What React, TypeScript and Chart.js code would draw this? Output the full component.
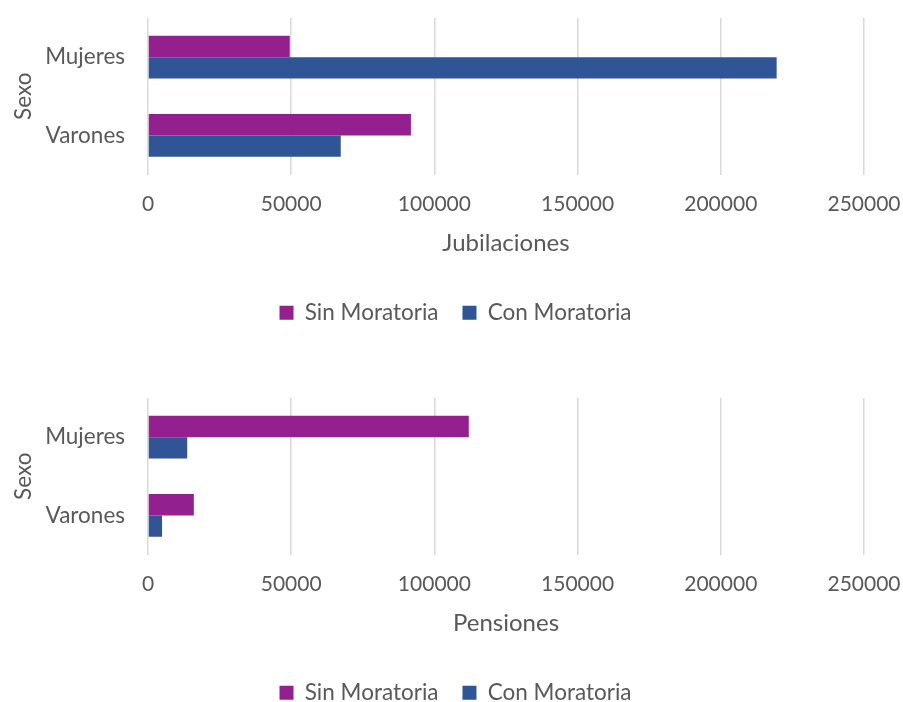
import React, { useEffect, useRef } from "react";
import { Chart, registerables } from "chart.js";

Chart.register(...registerables);

const categories = ["Mujeres", "Varones"];
const seriesNames = ["Sin Moratoria", "Con Moratoria"];
const jubilacionesSin = [49500, 91800];
const jubilacionesCon = [219500, 67300];
const pensionesSin = [112000, 16000];
const pensionesCon = [13700, 4900];
const xTickValues = [0, 50000, 100000, 150000, 200000, 250000];
const axisTitleY = "Sexo";
const colors = ["#93208E", "#2F5597"];

const FONT_FAMILY = "Lato, 'Open Sans', sans-serif";
const TEXT_COLOR = "#595959";
const W = 903;
const H = 334;

const legendCenterPlugin = {
  id: "legendCenter",
  afterLayout(chart: any) {
    if (chart.legend) {
      chart.legend.left = 4;
      chart.legend.right = 907;
    }
  },
};

function makeConfig(xTitle: string, sin: number[], con: number[]): any {
  const tickFont = { family: FONT_FAMILY, size: 21 };
  const catFont = { family: FONT_FAMILY, size: 22.5 };
  const titleFont = { family: FONT_FAMILY, size: 24 };
  const legendFont = { family: FONT_FAMILY, size: 22.5 };
  return {
    type: "bar",
    data: {
      labels: categories,
      datasets: [
        {
          label: seriesNames[0],
          data: sin,
          backgroundColor: colors[0],
          borderWidth: 0,
          categoryPercentage: 0.545,
          barPercentage: 1,
        },
        {
          label: seriesNames[1],
          data: con,
          backgroundColor: colors[1],
          borderWidth: 0,
          categoryPercentage: 0.545,
          barPercentage: 1,
        },
      ],
    },
    plugins: [legendCenterPlugin],
    options: {
      indexAxis: "y",
      responsive: false,
      animation: false,
      devicePixelRatio: 1,
      layout: { padding: { left: 0, right: 39, top: 18, bottom: 0 } },
      scales: {
        x: {
          min: 0,
          max: 250000,
          afterBuildTicks: (s: any) => {
            s.ticks = xTickValues.map((v) => ({ value: v }));
          },
          ticks: {
            callback: (v: any) => String(v),
            padding: 17,
            font: tickFont,
            color: TEXT_COLOR,
            maxRotation: 0,
            autoSkip: false,
          },
          grid: { color: "#d9d9d9", lineWidth: 1.5, drawTicks: false },
          border: { display: false },
          title: {
            display: true,
            text: xTitle,
            font: titleFont,
            color: TEXT_COLOR,
            padding: { top: 4, bottom: 20 },
          },
          afterFit: (s: any) => {
            s.height = 103;
            s.paddingLeft = 0;
            s.paddingRight = 0;
          },
        },
        y: {
          ticks: { padding: 23, font: catFont, color: TEXT_COLOR },
          grid: { display: false, drawTicks: false },
          border: { display: false },
          title: {
            display: true,
            text: axisTitleY,
            font: catFont,
            color: TEXT_COLOR,
            padding: { top: 10, bottom: 0 },
          },
          afterFit: (s: any) => {
            s.width = 148;
            s.paddingTop = 0;
            s.paddingBottom = 0;
          },
        },
      },
      plugins: {
        legend: {
          position: "bottom",
          labels: {
            boxWidth: 14,
            boxHeight: 14,
            padding: 24,
            font: legendFont,
            color: TEXT_COLOR,
          },
        },
        tooltip: { enabled: false },
      },
    },
  };
}

function BarChart({ xTitle, sin, con, top }: { xTitle: string; sin: number[]; con: number[]; top: number }) {
  const ref = useRef<HTMLCanvasElement | null>(null);
  useEffect(() => {
    if (!ref.current) return;
    const chart = new Chart(ref.current, makeConfig(xTitle, sin, con));
    return () => chart.destroy();
  }, [xTitle, sin, con]);
  return (
    <canvas
      ref={ref}
      width={W}
      height={H}
      style={{ position: "absolute", left: 0, top, width: W, height: H }}
    />
  );
}

export default function App() {
  return (
    <div style={{ position: "absolute", left: 0, top: 0, width: W, height: 702, background: "#fff", overflow: "hidden" }}>
      <BarChart xTitle="Jubilaciones" sin={jubilacionesSin} con={jubilacionesCon} top={0} />
      <BarChart xTitle="Pensiones" sin={pensionesSin} con={pensionesCon} top={380} />
    </div>
  );
}
